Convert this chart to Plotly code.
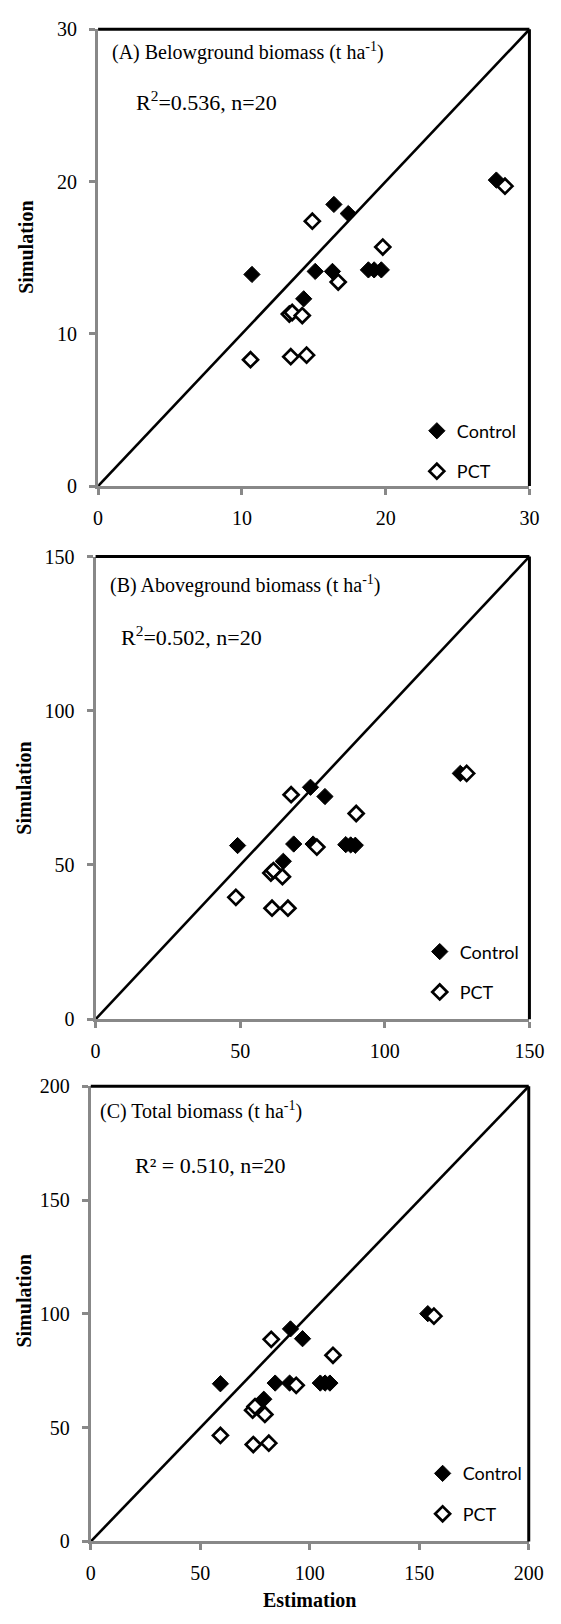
import plotly.graph_objects as go

# ---------------- data ----------------
# (A) Belowground biomass (t ha-1)
a_ctrl_est = [10.7, 16.4, 17.4, 15.1, 16.3, 14.3, 18.8, 19.2, 19.7, 27.7]
a_ctrl_sim = [13.9, 18.5, 17.9, 14.1, 14.1, 12.3, 14.2, 14.2, 14.2, 20.1]
a_pct_est = [10.6, 14.9, 19.8, 16.7, 13.3, 13.5, 14.2, 13.4, 14.5, 28.3]
a_pct_sim = [8.3, 17.4, 15.7, 13.4, 11.3, 11.4, 11.2, 8.5, 8.6, 19.7]

# (B) Aboveground biomass (t ha-1)
b_ctrl_est = [49.1, 74.3, 79.3, 68.5, 75.2, 64.9, 86.5, 88.2, 89.8, 126.1]
b_ctrl_sim = [56.3, 75.2, 72.2, 56.8, 56.8, 51.2, 56.6, 56.5, 56.4, 79.7]
b_pct_est = [67.6, 90.1, 76.5, 60.6, 61.5, 64.6, 48.5, 61.0, 66.5, 128.3]
b_pct_sim = [72.8, 66.7, 55.8, 47.4, 48.2, 46.2, 39.5, 36.0, 36.0, 79.7]

# (C) Total biomass (t ha-1)
c_ctrl_est = [59.2, 91.2, 96.7, 84.2, 90.8, 79.0, 104.8, 107.0, 109.2, 153.9]
c_ctrl_sim = [69.3, 93.4, 89.1, 69.6, 69.6, 62.5, 69.6, 69.6, 69.6, 100.1]
c_pct_est = [82.4, 110.6, 93.8, 73.9, 75.0, 79.5, 59.2, 74.2, 81.3, 156.7]
c_pct_sim = [88.8, 81.8, 68.6, 57.7, 59.3, 55.8, 46.6, 42.6, 43.2, 99.0]

panel_titles = ["(A) Belowground biomass (t ha<sup>-1</sup>)",
                "(B) Aboveground biomass (t ha<sup>-1</sup>)",
                "(C) Total biomass (t ha<sup>-1</sup>)"]
r2_texts = ["R<sup>2</sup>=0.536, n=20",
            "R<sup>2</sup>=0.502, n=20",
            "R² = 0.510, n=20"]
axis_max = [30, 150, 200]
tick_vals = [[0, 10, 20, 30], [0, 50, 100, 150], [0, 50, 100, 150, 200]]
series_names = ["Control", "PCT"]
y_title = "Simulation"
x_title = "Estimation"

# ---------------- layout geometry (page pixels) ----------------
PAGE_W, PAGE_H = 561, 1624
OFF = 8                      # default body margin of the html page
W, H = PAGE_W - OFF, PAGE_H - OFF
def px(x):
    return (x - OFF) / W
def py(y):
    return 1 - (y - OFF) / H

boxes = [(96.3, 18.5, 543.8, 481.5), (93.7, 553, 543.8, 1022), (88.7, 1090, 543.1, 1551.5)]
title_pos = [(109, 40.5), (106.6, 581), (96.6, 1114.5)]
r2_pos = [(134, 91), (118, 634), (133, 1170)]
ytitle_pos = [(21.5, 240), (19.7, 788), (19.7, 1308)]
legend_pos = [(427, 407), (430, 935), (433, 1464)]

SERIF = "Liberation Serif"
GRAY = "#888888"

data_sets = [
    (a_ctrl_est, a_ctrl_sim, a_pct_est, a_pct_sim),
    (b_ctrl_est, b_ctrl_sim, b_pct_est, b_pct_sim),
    (c_ctrl_est, c_ctrl_sim, c_pct_est, c_pct_sim),
]

fig = go.Figure()
annotations = []
shapes = []
layout_axes = {}

for i in range(3):
    sfx = "" if i == 0 else str(i + 1)
    xref, yref = "x" + sfx, "y" + sfx
    legend_id = "legend" + sfx
    ce, cs, pe, ps = data_sets[i]
    m = axis_max[i]

    # 1:1 line
    fig.add_trace(go.Scatter(x=[0, m], y=[0, m], mode="lines",
                             line=dict(color="black", width=2.6),
                             showlegend=False, hoverinfo="skip",
                             xaxis=xref, yaxis=yref))
    fig.add_trace(go.Scatter(x=ce, y=cs, mode="markers", name=series_names[0],
                             marker=dict(symbol="diamond", size=12.5, color="black",
                                         line=dict(color="black", width=1)),
                             legendgroup="c" + str(i), legend=legend_id,
                             xaxis=xref, yaxis=yref))
    fig.add_trace(go.Scatter(x=pe, y=ps, mode="markers", name=series_names[1],
                             marker=dict(symbol="diamond", size=11.5, color="white",
                                         line=dict(color="black", width=2.7)),
                             legendgroup="p" + str(i), legend=legend_id,
                             xaxis=xref, yaxis=yref))

    x0, y0, x1, y1 = boxes[i]
    axis_common = dict(range=[0, m], tickvals=tick_vals[i], showgrid=False, zeroline=False,
                       showline=True, linecolor=GRAY, linewidth=3,
                       ticks="outside", tickcolor=GRAY, tickwidth=2.5, ticklen=6,
                       tickfont=dict(family=SERIF, size=20, color="black"),
                       fixedrange=True)
    layout_axes["xaxis" + sfx] = dict(axis_common, domain=[px(x0), px(x1)], anchor=yref,
                                      ticklabelstandoff=6)
    layout_axes["yaxis" + sfx] = dict(axis_common, domain=[py(y1), py(y0)], anchor=xref,
                                      ticklabelstandoff=8)

    # top and right black borders
    shapes.append(dict(type="line", xref=xref + " domain", yref=yref + " domain",
                       x0=0, x1=1, y0=1, y1=1, line=dict(color="black", width=3)))
    shapes.append(dict(type="line", xref=xref + " domain", yref=yref + " domain",
                       x0=1, x1=1, y0=0, y1=1, line=dict(color="black", width=3)))

    tx, ty = title_pos[i]
    annotations.append(dict(text=panel_titles[i], x=px(tx), y=py(ty), xref="paper", yref="paper",
                            xanchor="left", yanchor="middle", showarrow=False,
                            font=dict(family=SERIF, size=20, color="black")))
    rx, ry = r2_pos[i]
    annotations.append(dict(text=r2_texts[i], x=px(rx), y=py(ry), xref="paper", yref="paper",
                            xanchor="left", yanchor="middle", showarrow=False,
                            font=dict(family=SERIF, size=22, color="black")))
    sx, sy = ytitle_pos[i]
    annotations.append(dict(text="<b>" + y_title + "</b>", x=px(sx), y=py(sy),
                            xref="paper", yref="paper", xanchor="center", yanchor="middle",
                            textangle=-90, showarrow=False,
                            font=dict(family=SERIF, size=20, color="black")))
    lx, ly = legend_pos[i]
    layout_axes[legend_id] = dict(x=px(lx), y=py(ly), xanchor="left", yanchor="top",
                                  bgcolor="rgba(0,0,0,0)", tracegroupgap=14,
                                  font=dict(family="Lato", size=18, color="black"))

annotations.append(dict(text="<b>" + x_title + "</b>", x=px(316), y=py(1611),
                        xref="paper", yref="paper", xanchor="center", yanchor="middle",
                        showarrow=False, font=dict(family=SERIF, size=20, color="black")))

fig.update_layout(width=W, height=H, margin=dict(l=0, r=0, t=0, b=0),
                  paper_bgcolor="white", plot_bgcolor="white",
                  annotations=annotations, shapes=shapes, showlegend=True,
                  **layout_axes)

fig.write_html("out.html")
